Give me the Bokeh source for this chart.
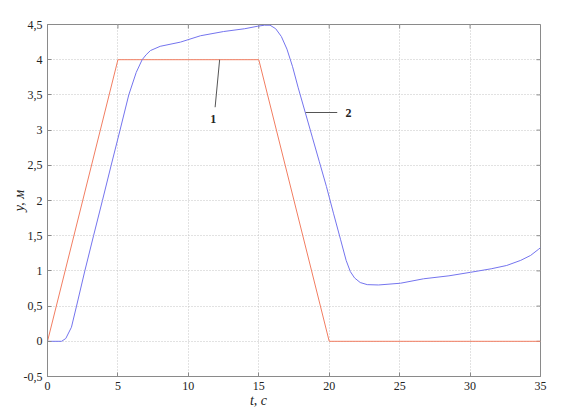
import math
from bokeh.plotting import figure
from bokeh.models import Label, FixedTicker, LinearAxis
from bokeh.embed import file_html
from bokeh.resources import INLINE

# ---- data ----
t_ref = [0, 5, 15, 20, 35]
y_ref = [0, 4, 4, 0, 0]

t_blue = [0, 1.0, 1.3, 1.7, 2.06, 2.65, 3.27, 3.9, 4.52, 5.15, 5.77, 6.3, 6.72,
          7.0, 7.31, 8.0, 9.44, 10.86, 12.5, 14.0, 14.93, 15.4, 15.8, 16.2,
          16.6, 17.0, 17.4, 17.8, 18.3, 18.8, 19.3, 19.8, 20.3, 20.8, 21.2,
          21.5, 21.8, 22.2, 22.7, 23.5, 25.06, 26.7, 28.5, 30.03, 31.5,
          32.6, 33.6, 34.3, 34.88, 35]
y_blue = [0, 0, 0.04, 0.2, 0.5, 1.0, 1.5, 2.0, 2.5, 3.0, 3.5, 3.82, 4.0,
          4.07, 4.13, 4.19, 4.25, 4.34, 4.4, 4.44, 4.476, 4.49, 4.49, 4.44,
          4.33, 4.15, 3.9, 3.6, 3.25, 2.9, 2.55, 2.2, 1.82, 1.45, 1.15,
          0.99, 0.9, 0.835, 0.805, 0.8, 0.825, 0.888, 0.93, 0.98, 1.03,
          1.077, 1.15, 1.22, 1.31, 1.33]

x_ticks = [0, 5, 10, 15, 20, 25, 30, 35]
x_tick_labels = ["0", "5", "10", "15", "20", "25", "30", "35"]
y_ticks = [-0.5, 0, 0.5, 1, 1.5, 2, 2.5, 3, 3.5, 4, 4.5]
y_tick_labels = ["-0,5", "0", "0,5", "1", "1,5", "2", "2,5", "3", "3,5", "4", "4,5"]

# curve labels: leader line start/end and label position
lead_x0 = [12.22, 18.32]
lead_y0 = [4.0, 3.25]
lead_x1 = [11.9, 20.57]
lead_y1 = [3.325, 3.25]
lab_x = [11.76, 21.37]
lab_y = [3.16, 3.25]
lab_text = ["1", "2"]

x_label = "t, с"
x_label_pos = 14.98
y_label = "y, м"

# ---- figure ----
p = figure(width=566, height=411, x_range=(0, 35), y_range=(-0.5, 4.5),
           output_backend="svg", toolbar_location=None,
           min_border_left=47, min_border_right=26, min_border_top=24,
           min_border_bottom=35)
p.background_fill_color = "white"
p.border_fill_color = "white"
p.outline_line_color = "#8a8a8a"
p.outline_line_width = 1

FONT = "Liberation Serif"
AX = "#8a8a8a"

p.xaxis.ticker = FixedTicker(ticks=x_ticks)
p.yaxis.ticker = FixedTicker(ticks=y_ticks)
p.xaxis.major_label_overrides = dict(zip(x_ticks, x_tick_labels))
p.yaxis.major_label_overrides = dict(zip(y_ticks, y_tick_labels))

p.axis.axis_line_color = AX
p.axis.major_tick_line_color = AX
p.axis.major_tick_in = 4
p.axis.major_tick_out = 0
p.axis.minor_tick_line_color = None
p.axis.major_label_text_font = FONT
p.axis.major_label_text_font_size = "12px"
p.axis.major_label_text_color = "#222222"
p.axis.major_label_standoff = 5

p.yaxis.axis_label = y_label
p.yaxis.axis_label_text_font = FONT
p.yaxis.axis_label_text_font_size = "14px"
p.yaxis.axis_label_text_font_style = "italic"
p.yaxis.axis_label_text_color = "#222222"
p.yaxis.axis_label_standoff = -6

# x-axis title, placed under the tick labels at its own position
xlab_axis = LinearAxis(ticker=FixedTicker(ticks=[x_label_pos]),
                       major_label_overrides={x_label_pos: x_label},
                       axis_line_color=None, major_tick_line_color=None,
                       minor_tick_line_color=None, major_tick_in=0,
                       major_tick_out=0, major_label_standoff=0,
                       major_label_text_font=FONT,
                       major_label_text_font_size="14px",
                       major_label_text_font_style="italic",
                       major_label_text_color="#222222")
p.add_layout(xlab_axis, "below")

# inward ticks on the right and top edges of the box
p.ray(x=[x_ticks[-1]] * len(y_ticks), y=y_ticks, length=4, length_units="screen",
      angle=math.pi, line_color=AX, line_width=1)
p.ray(x=x_ticks, y=[y_ticks[-1]] * len(x_ticks), length=4, length_units="screen",
      angle=-math.pi / 2, line_color=AX, line_width=1)

p.xgrid.grid_line_color = "#c4c4c4"
p.ygrid.grid_line_color = "#c4c4c4"
p.xgrid.grid_line_dash = "1 2"
p.ygrid.grid_line_dash = "1 2"

p.line(t_ref, y_ref, line_color="#f27e62", line_width=1)
p.line(t_blue, y_blue, line_color="#7474ee", line_width=1)

p.segment(x0=lead_x0, y0=lead_y0, x1=lead_x1, y1=lead_y1,
          line_color="#555555", line_width=1)
for lx, ly, lt in zip(lab_x, lab_y, lab_text):
    p.add_layout(Label(x=lx, y=ly, text=lt, text_font=FONT,
                       text_font_size="12px", text_font_style="bold",
                       text_align="center", text_baseline="middle",
                       text_color="#222222"))

open("out.html", "w").write(file_html(p, INLINE))
